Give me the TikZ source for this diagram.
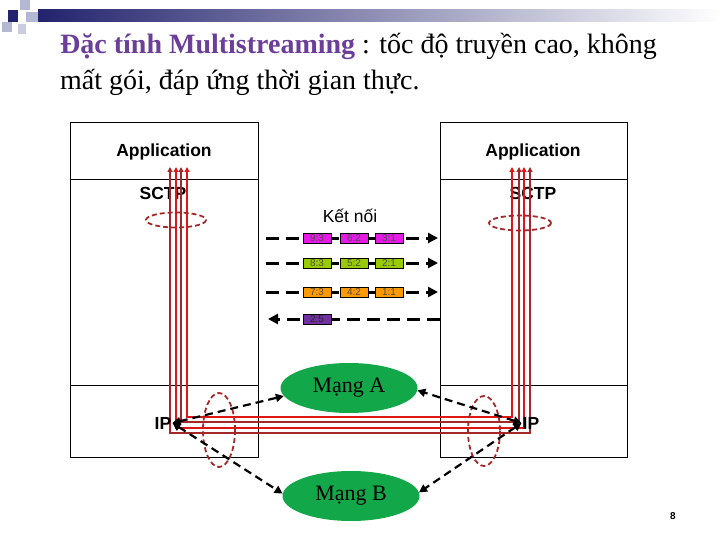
\documentclass[tikz,border=0pt]{standalone}
\usepackage{fontspec}
\setmainfont{Liberation Serif}
\setsansfont{Liberation Sans}
\usepackage{xcolor}
\usetikzlibrary{arrows.meta, shapes.geometric, positioning}
\definecolor{titlepurple}{HTML}{6B3E99}
\definecolor{barnavy}{HTML}{23236E}
\definecolor{squaregray}{HTML}{B4B8D2}
\definecolor{netgreen}{HTML}{12A84A}
\definecolor{sctpred}{HTML}{E01515}
\definecolor{darkred}{HTML}{A52828}
\definecolor{chunkpink}{HTML}{E619E6}
\definecolor{chunklime}{HTML}{99CC00}
\definecolor{chunkorange}{HTML}{FF9900}
\definecolor{chunkpurple}{HTML}{7030A0}

\begin{document}
\begin{tikzpicture}[x=1pt, y=-1pt,
  layerbox/.style={draw=black, line width=0.8pt},
  layertext/.style={font=\sffamily\bfseries\fontsize{17.5}{20}\selectfont, inner sep=1pt},
  stream/.style={line width=3pt, dash pattern=on 13pt off 7pt, -{Triangle[length=10pt,width=10pt]}},
  chunk/.style={draw=black, line width=0.6pt, minimum width=28pt, minimum height=10pt, inner sep=0pt,
    font=\sffamily\fontsize{10}{10}\selectfont, text=black!70},
  sctpline/.style={line width=1.8pt, {Triangle[length=5pt,width=5pt]}-{Triangle[length=5pt,width=5pt]}},
  bundle/.style={draw=darkred, dash pattern=on 5pt off 3pt, line width=1.8pt},
  net/.style={ellipse, fill=netgreen, minimum width=137pt, minimum height=50pt, inner sep=0pt,
    font=\fontsize{22}{24}\selectfont},
  netlink/.style={line width=2.2pt, dash pattern=on 8pt off 5pt,
    {Triangle[length=8pt,width=8pt]}-{Triangle[length=8pt,width=8pt]}}
]
\useasboundingbox (0,0) rectangle (720,540);

% slide header
\shade[left color=barnavy, right color=white] (38,10) rectangle (720,22);
\fill[squaregray] (20,0) rectangle (30,10);
\fill[barnavy] (8,10) rectangle (18,22);
\fill[squaregray] (26,12) rectangle (38,22);
\fill[squaregray] (2,22) rectangle (12,32);
\fill[squaregray!70] (18,24) rectangle (26,34);

\node[anchor=base west, inner sep=0pt, font=\fontsize{28}{34}\selectfont] (title1) at (60,54)
  {\textcolor{titlepurple}{\textbf{Đặc tính Multistreaming}} : tốc độ truyền cao, không};
\node[anchor=base west, inner sep=0pt, font=\fontsize{28}{34}\selectfont] (title2) at (60,90)
  {mất gói, đáp ứng thời gian thực.};

% two hosts
\draw[layerbox] (70,122) rectangle (258,457);
\draw[layerbox] (70,179) -- (258,179);
\draw[layerbox] (70,385) -- (258,385);
\draw[layerbox] (440,122) rectangle (627,457);
\draw[layerbox] (440,179) -- (627,179);
\draw[layerbox] (440,385) -- (627,385);

\node[layertext] (appL) at (164,152) {Application};
\node[layertext] (sctpL) at (163,193) {SCTP};
\node[layertext] (appR) at (533,152) {Application};
\node[layertext] (sctpR) at (533,193) {SCTP};

% streams
\node[font=\sffamily\fontsize{17.5}{20}\selectfont] (link) at (350,216) {Kết nối};
\foreach \y/\c/\a/\b/\d in {238/chunkpink/9:3/6:2/3:1, 263/chunklime/8:3/5:2/2:1, 292/chunkorange/7:3/4:2/1:1} {
  \coordinate (sin\y) at (266,\y);
  \coordinate (sout\y) at (438,\y);
  \draw[stream] (sin\y) -- (sout\y);
  \node[chunk, fill=\c] (c\y a) at (317,\y) {\a};
  \node[chunk, fill=\c] (c\y b) at (354,\y) {\b};
  \node[chunk, fill=\c] (c\y c) at (389,\y) {\d};
}
\coordinate (sin319) at (440,319);
\coordinate (sout319) at (268,319);
\draw[stream] (sin319) -- (sout319);
\node[chunk, fill=chunkpurple, text=black!85] (c319a) at (317,319) {2:5};

% association paths
\foreach \xl/\xr/\yb/\c [count=\i] in {170/530/433/darkred, 176/524/428/sctpred, 181/519/422/darkred, 187/512/417/sctpred} {
  \coordinate (l\i) at (\xl,167);
  \coordinate (r\i) at (\xr,167);
  \draw[sctpline, \c] (l\i) |- (\xr,\yb) -- (r\i);
}
\draw[bundle] (176,220) ellipse [x radius=30, y radius=7.5];
\draw[bundle] (520,223) ellipse [x radius=31, y radius=7.5];
\draw[bundle] (219,430) ellipse [x radius=16, y radius=37];
\draw[bundle] (484,431) ellipse [x radius=16, y radius=35];

% networks
\node[net] (netA) at (349,388) {Mạng A};
\node[net] (netB) at (351,496) {Mạng B};
\node[layertext] (ipL) at (163,423) {IP};
\node[layertext] (ipR) at (531,423) {IP};
\draw[netlink] (ipL.east) -- (netA.187);
\draw[netlink] (ipL.east) -- (netB.178);
\draw[netlink] (ipR.west) -- (netA.358);
\draw[netlink] (ipR.west) -- (netB.3);

\node[font=\sffamily\bfseries\fontsize{10}{12}\selectfont] (pagenum) at (673,516) {8};
\end{tikzpicture}
\end{document}
